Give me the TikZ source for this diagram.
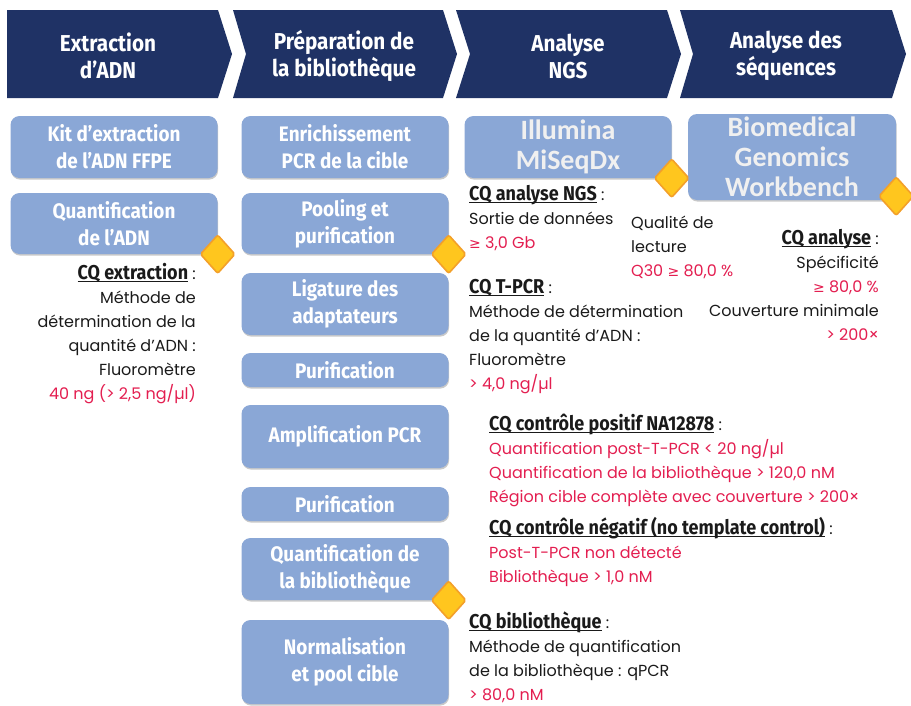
\documentclass[tikz,border=0pt]{standalone}
\usepackage{fontspec}
\setmainfont{Poppins}
\newfontfamily\labelfont{Fira Sans}[FakeStretch=0.9]
\newfontfamily\brandfont{Carlito}
\newfontfamily\symfont{DejaVu Sans}
\usetikzlibrary{shapes.geometric, shadows}

\definecolor{navy}{HTML}{1F3265}
\definecolor{boxblue}{HTML}{8AA7D6}
\definecolor{qcyellow}{HTML}{FFC61E}
\definecolor{qcorange}{HTML}{F3A02A}
\definecolor{qcred}{HTML}{E31E50}
\definecolor{ink}{HTML}{1A1A1A}

% underlined bold heading of a QC block
\newcommand{\qchead}[1]{\setbox0=\hbox{\labelfont\bfseries\fontsize{20}{24}\selectfont #1}\rlap{\rule[-3pt]{\wd0}{0.9pt}}\box0}
\newcommand{\red}[1]{\textcolor{qcred}{#1}}
\newcommand{\geqsym}{{\symfont\fontsize{14}{24}\selectfont ≥}}

\tikzset{
  stagetext/.style={text=white, align=center, inner sep=0pt,
    font=\labelfont\bfseries\fontsize{23}{27}\selectfont},
  stepbox/.style={fill=boxblue, rounded corners=9pt, minimum width=207pt,
    inner sep=0pt, text=white, align=center,
    font=\labelfont\bfseries\fontsize{21}{27}\selectfont,
    drop shadow={shadow xshift=0.6pt, shadow yshift=-1.6pt, opacity=0.3, fill=black!70}},
  brandbox/.style={stepbox, text=black!6, font=\brandfont\bfseries\fontsize{28}{30}\selectfont},
  qc/.style={diamond, fill=qcyellow, draw=qcorange, line width=1.6pt,
    minimum width=35pt, minimum height=39pt, inner sep=0pt, rounded corners=2pt},
  % criteria blocks sit on the baseline of their last line
  crit/.style={inner sep=0pt, text=ink, font=\fontsize{16}{24}\selectfont},
  critL/.style={crit, align=left, anchor=base west},
  critR/.style={crit, align=right, anchor=base east}
}

\begin{document}
\begin{tikzpicture}[x=1pt, y=-1pt]
  \clip (0,0) rectangle (911,705);

  % stage chevrons
  \foreach \l/\r/\n in {7/218/0, 233/443/13, 456/667/14, 680/892/13}
    \fill[navy] (\l,10) -- (\r,10) -- (\r+14,54) -- (\r,98) -- (\l,98) -- (\l+\n,54) -- cycle;

  \node[stagetext] (extraction) at (108,56) {Extraction\\d’ADN};
  \node[stagetext] (preparation) at (344,56) {Préparation de\\la bibliothèque};
  \node[stagetext] (ngs) at (568,56) {Analyse\\NGS};
  \node[stagetext] (sequences) at (786,56) {Analyse des\\séquences};

  % workflow steps
  \node[stepbox, minimum height=62pt] (kit) at (114,147) {Kit d’extraction\\de l’ADN FFPE};
  \node[stepbox, minimum height=61pt] (quantadn) at (114,223.5) {Quantification\\de l’ADN};

  \node[stepbox, minimum height=62pt] (enrich) at (345,147) {Enrichissement\\PCR de la cible};
  \node[stepbox, minimum height=61pt] (pooling) at (345,223.5) {Pooling et\\purification};
  \node[stepbox, minimum height=62pt] (ligature) at (345,304) {Ligature des\\adaptateurs};
  \node[stepbox, minimum height=34pt] (purifA) at (345,370) {Purification};
  \node[stepbox, minimum height=63pt] (amplif) at (345,436.5) {Amplification PCR};
  \node[stepbox, minimum height=34pt] (purifB) at (345,504) {Purification};
  \node[stepbox, minimum height=62pt] (quantlib) at (345,569) {Quantification de\\la bibliothèque};
  \node[stepbox, minimum height=84pt] (normal) at (345,662) {Normalisation\\et pool cible};

  \node[brandbox, minimum height=62pt] (illumina) at (568,147) {Illumina\\MiSeqDx};
  \node[brandbox, minimum height=86pt, minimum width=208pt] (workbench) at (792,157) {Biomedical\\Genomics\\Workbench};

  % QC checkpoints
  \node[qc] (qcextr) at (quantadn.south east) {};
  \node[qc] (qcpool) at (pooling.south east) {};
  \node[qc] (qcngs) at (illumina.south east) {};
  \node[qc] (qcanalyse) at ([yshift=4pt]workbench.south east) {};
  \node[qc] (qclib) at (quantlib.south east) {};

  % QC criteria
  \node[critR] (critextr) at (196,399) {\qchead{CQ extraction}~:\\Méthode de\\détermination de la\\quantité d’ADN :\\Fluoromètre\\\red{40 ng (> 2,5 ng/µl)}};

  \node[critL] (critngs) at (469,248) {\qchead{CQ analyse NGS}~:\\Sortie de données\\\red{\geqsym{} 3,0 Gb}};
  \node[critL] (critqual) at (631,276) {Qualité de\\lecture\\\red{Q30 \geqsym{} 80,0 \%}};
  \node[critL] (crittpcr) at (469,389) {\qchead{CQ T-PCR}~:\\Méthode de détermination\\de la quantité d’ADN :\\Fluoromètre\\\red{> 4,0 ng/µl}};
  \node[critR] (critanalyse) at (879,340) {\qchead{CQ analyse}~:\\Spécificité\\\red{\geqsym{} 80,0 \%}\\Couverture minimale\\\red{> 200×}};

  \node[critL] (critpos) at (489,502) {\qchead{CQ contrôle positif NA12878}~:\\\red{Quantification post-T-PCR < 20 ng/µl}\\\red{Quantification de la bibliothèque > 120,0 nM}\\\red{Région cible complète avec couverture > 200×}};
  \node[critL] (critneg) at (489,582) {\qchead{CQ contrôle négatif (no template control)}~:\\\red{Post-T-PCR non détecté}\\\red{Bibliothèque > 1,0 nM}};
  \node[critL] (critlib) at (469,700) {\qchead{CQ bibliothèque}~:\\Méthode de quantification\\de la bibliothèque : qPCR\\\red{> 80,0 nM}};
\end{tikzpicture}
\end{document}
